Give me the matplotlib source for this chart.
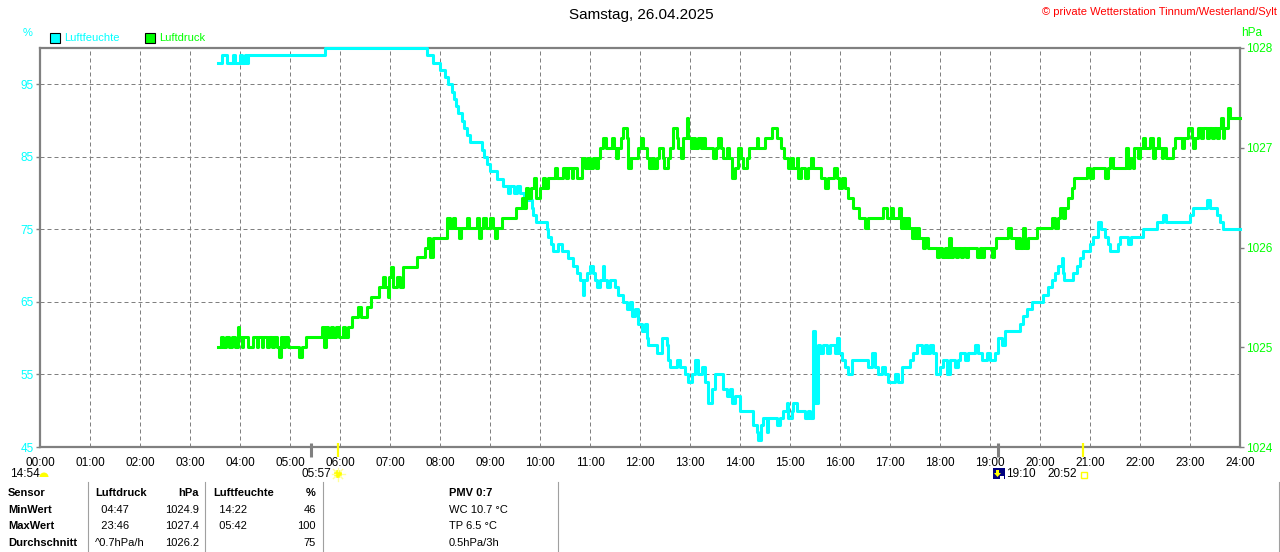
import matplotlib
matplotlib.use('Agg')
import matplotlib.pyplot as plt
from matplotlib.patches import Rectangle, Wedge, Circle, Polygon
from matplotlib.lines import Line2D

plt.rcParams['font.family'] = ['Liberation Sans', 'DejaVu Sans']

# ---------------- data (minutes after midnight) ----------------
hum_min = [214, 218, 224, 232, 234, 240, 242, 246, 248, 250, 342, 464, 472, 480, 486, 490, 494, 497, 499,
           502, 506, 509, 512, 516, 530, 533, 536, 540, 548, 556, 562, 564, 569, 572, 576, 581, 590, 592,
           595, 608, 610, 613, 616, 622, 626, 633, 640, 644, 648, 651, 653, 656, 660, 663, 666, 668, 672,
           675, 677, 680, 684, 690, 694, 700, 704, 708, 710, 714, 718, 722, 726, 728, 730, 740, 746, 752,
           754, 756, 764, 768, 774, 778, 782, 786, 790, 794, 798, 802, 806, 810, 820, 824, 828, 830, 834,
           840, 855, 860, 862, 865, 868, 872, 874, 884, 888, 892, 896, 898, 902, 904, 908, 918, 922, 924,
           927, 928, 930, 933, 936, 940, 944, 948, 954, 956, 959, 962, 966, 970, 974, 994, 998, 1002, 1006,
           1010, 1014, 1018, 1026, 1030, 1034, 1044, 1048, 1052, 1058, 1062, 1064, 1068, 1072, 1075, 1080,
           1084, 1088, 1092, 1098, 1102, 1104, 1110, 1114, 1122, 1126, 1130, 1136, 1140, 1146, 1150, 1154,
           1158, 1176, 1180, 1184, 1190, 1204, 1210, 1214, 1218, 1222, 1226, 1227, 1229, 1239, 1244, 1248,
           1251, 1260, 1264, 1270, 1273, 1278, 1282, 1284, 1294, 1296, 1306, 1309, 1324, 1340, 1348, 1351,
           1380, 1384, 1400, 1404, 1412, 1416, 1420, 1440]
hum_val = [98, 99, 98, 99, 98, 99, 98, 99, 98, 99, 100, 99, 98, 97, 96, 95, 94, 93, 92,
           91, 90, 89, 88, 87, 86, 85, 84, 83, 82, 81, 80, 81, 80, 81, 80, 79, 78, 77,
           76, 75, 74, 73, 72, 73, 72, 71, 70, 69, 68, 66, 68, 69, 70, 69, 68, 67, 68,
           70, 68, 67, 68, 67, 66, 65, 64, 65, 63, 64, 62, 61, 62, 60, 59, 58, 60, 59,
           57, 56, 57, 56, 55, 54, 55, 57, 55, 56, 54, 51, 53, 55, 53, 52, 53, 51, 52,
           50, 48, 47, 46, 48, 49, 47, 49, 48, 49, 50, 51, 49, 50, 51, 50, 49, 50, 49,
           50, 61, 51, 59, 58, 59, 58, 59, 58, 60, 58, 57, 56, 55, 57, 56, 58, 56, 55,
           56, 55, 54, 55, 54, 56, 57, 58, 59, 58, 59, 58, 59, 58, 55, 56,
           57, 55, 57, 56, 57, 58, 57, 58, 59, 58, 57, 58, 57, 58, 60, 59,
           61, 62, 63, 64, 65, 66, 67, 68, 69, 70, 71, 69, 68, 69, 70, 71,
           72, 73, 74, 76, 75, 74, 73, 72, 73, 74, 73, 74, 75, 76, 77, 76,
           77, 78, 79, 78, 77, 76, 75, 75]

prs_min = [214, 217, 220, 223, 227, 230, 234, 237, 239, 242, 244, 250, 255, 260, 262, 266, 268, 272, 275,
           278, 281, 284, 287, 289, 292, 294, 297, 311, 314, 319, 338, 341, 343, 346, 349, 352, 355, 359,
           363, 366, 370, 374, 382, 385, 392, 397, 407, 411, 414, 417, 419, 421, 424, 428, 432, 435, 452,
           462, 466, 468, 471, 488, 492, 495, 498, 503, 505, 512, 515, 524, 527, 529, 532, 535, 540, 544,
           546, 548, 554, 571, 578, 581, 583, 586, 589, 593, 595, 600, 603, 606, 610, 618, 620, 628, 631,
           634, 638, 640, 644, 650, 654, 657, 660, 664, 667, 669, 672, 676, 679, 686, 689, 691, 694, 697,
           699, 704, 706, 709, 717, 721, 724, 728, 731, 734, 737, 740, 743, 747, 749, 753, 756, 759, 764,
           766, 769, 772, 776, 778, 781, 784, 786, 790, 793, 796, 798, 807, 811, 814, 817, 820, 824, 827,
           830, 834, 838, 841, 844, 848, 851, 860, 862, 870, 878, 884, 889, 893, 898, 901, 904, 908, 910,
           913, 918, 922, 925, 928, 937, 942, 945, 953, 956, 959, 962, 966, 970, 975, 983, 990, 994, 1012,
           1016, 1018, 1021, 1024, 1031, 1033, 1036, 1038, 1040, 1043, 1046, 1049, 1051, 1053, 1055, 1060,
           1062, 1066, 1076, 1079, 1082, 1086, 1088, 1091, 1093, 1096, 1099, 1102, 1105, 1108, 1111, 1114,
           1124, 1128, 1130, 1133, 1142, 1145, 1147, 1162, 1165, 1171, 1174, 1176, 1179, 1182, 1185, 1196,
           1214, 1218, 1221, 1224, 1227, 1230, 1234, 1238, 1241, 1256, 1260, 1264, 1278, 1282, 1284, 1288,
           1303, 1306, 1308, 1311, 1313, 1317, 1320, 1324, 1326, 1332, 1335, 1338, 1341, 1343, 1346, 1348,
           1351, 1360, 1362, 1370, 1373, 1378, 1382, 1384, 1386, 1390, 1393, 1396, 1400, 1403, 1406, 1409,
           1412, 1415, 1417, 1419, 1421, 1426, 1428, 1440]
prs_val = [1025.0, 1025.1, 1025.0, 1025.1, 1025.0, 1025.1, 1025.0, 1025.2, 1025.1, 1025.0, 1025.1, 1025.0,
           1025.1, 1025.0, 1025.1, 1025.0, 1025.1, 1025.0, 1025.1, 1025.0, 1025.1, 1025.0, 1024.9, 1025.1,
           1025.0, 1025.1, 1025.0, 1024.9, 1025.0, 1025.1, 1025.2, 1025.0, 1025.2, 1025.1, 1025.2, 1025.1,
           1025.2, 1025.1, 1025.2, 1025.1, 1025.2, 1025.3, 1025.4, 1025.3, 1025.4, 1025.5, 1025.6, 1025.7,
           1025.6, 1025.5, 1025.7, 1025.8, 1025.6, 1025.7, 1025.6, 1025.8, 1025.9, 1026.0, 1026.1, 1025.9,
           1026.1, 1026.3, 1026.2, 1026.3, 1026.2, 1026.1, 1026.2, 1026.3, 1026.2, 1026.3, 1026.1, 1026.2,
           1026.3, 1026.2, 1026.3, 1026.2, 1026.1, 1026.2, 1026.3, 1026.4, 1026.5, 1026.4, 1026.6, 1026.5,
           1026.6, 1026.7, 1026.5, 1026.6, 1026.7, 1026.6, 1026.7, 1026.8, 1026.7, 1026.8, 1026.7, 1026.8,
           1026.7, 1026.8, 1026.7, 1026.9, 1026.8, 1026.9, 1026.8, 1026.9, 1026.8, 1026.9, 1027.0, 1027.1,
           1027.0, 1027.1, 1027.0, 1026.9, 1027.0, 1027.1, 1027.2, 1027.1, 1026.8, 1026.9, 1027.0, 1027.1,
           1027.0, 1026.9, 1026.8, 1026.9, 1026.8, 1026.9, 1027.0, 1026.9, 1026.8, 1026.9, 1027.0, 1027.2,
           1027.1, 1027.0, 1026.9, 1027.1, 1027.3, 1027.1, 1027.0, 1027.1, 1027.0, 1027.1, 1027.0, 1027.1,
           1027.0, 1026.9, 1027.0, 1027.1, 1027.0, 1026.9, 1027.0, 1026.9, 1026.7, 1026.8, 1027.0, 1026.9,
           1026.8, 1026.9, 1027.0, 1027.1, 1027.0, 1027.1, 1027.2, 1027.1, 1027.0, 1026.9, 1026.8, 1026.9,
           1026.8, 1026.9, 1026.7, 1026.8, 1026.7, 1026.8, 1026.9, 1026.8, 1026.7, 1026.6, 1026.7, 1026.8,
           1026.7, 1026.6, 1026.7, 1026.6, 1026.5, 1026.4, 1026.3, 1026.2, 1026.3, 1026.4, 1026.3, 1026.3,
           1026.4, 1026.3, 1026.4, 1026.2, 1026.3, 1026.2, 1026.3, 1026.2, 1026.1, 1026.2, 1026.1, 1026.2,
           1026.1, 1026.0, 1026.1, 1026.0, 1025.9, 1026.0, 1025.9, 1026.0, 1025.9, 1026.1, 1025.9, 1026.0,
           1025.9, 1026.0, 1025.9, 1026.0, 1025.9, 1026.0, 1025.9, 1026.0, 1025.9, 1026.0, 1025.9, 1026.0,
           1026.1, 1026.2, 1026.1, 1026.0, 1026.1, 1026.0, 1026.2, 1026.0, 1026.1, 1026.2, 1026.3, 1026.2,
           1026.3, 1026.4, 1026.3, 1026.4, 1026.5, 1026.6, 1026.7, 1026.8, 1026.7, 1026.8, 1026.7, 1026.8,
           1026.9, 1026.8, 1027.0, 1026.8, 1026.9, 1026.8, 1027.0, 1026.9, 1027.0, 1027.1, 1027.0, 1027.1,
           1026.9, 1027.0, 1027.1, 1027.0, 1026.9, 1027.0, 1026.9, 1027.0, 1027.1, 1027.0, 1027.1, 1027.2,
           1027.1, 1027.0, 1027.1, 1027.2, 1027.1, 1027.2, 1027.1, 1027.2, 1027.1, 1027.2, 1027.1, 1027.2,
           1027.3, 1027.1, 1027.2, 1027.4, 1027.3, 1027.3]

hour_ticks = list(range(0, 1441, 60))
hour_labels = ['%02d:00' % h for h in range(25)]
hum_ticks = [45, 55, 65, 75, 85, 95]
prs_ticks = [1024, 1025, 1026, 1027, 1028]

event_min = [325, 357, 1150, 1252]
event_col = ['#808080', '#FFFF00', '#808080', '#FFFF00']

title = 'Samstag, 26.04.2025'
copyright_txt = '\u00a9 private Wetterstation Tinnum/Westerland/Sylt'

table_rows = [
    ('Sensor', 'Luftdruck', 'hPa', 'Luftfeuchte', '%', 'PMV 0:7'),
    ('MinWert', '  04:47', '1024.9', '  14:22', '46', 'WC 10.7 \u00b0C'),
    ('MaxWert', '  23:46', '1027.4', '  05:42', '100', 'TP 6.5 \u00b0C'),
    ('Durchschnitt', '^0.7hPa/h', '1026.2', '', '75', '0.5hPa/3h'),
]

# ---------------- figure ----------------
W, H = 1280, 552
fig = plt.figure(figsize=(W / 100, H / 100), dpi=100)
fig.patch.set_facecolor('white')

def fx(x):
    return x / W

def fy(y):
    return 1 - y / H

CYAN = '#00FFFF'
GREEN = '#00FF00'
GRAY = '#808080'

ax = fig.add_axes([fx(40), fy(447), 1200 / W, 399 / H])
ax2 = ax.twinx()

ax.plot(hum_min, hum_val, drawstyle='steps-post', color=CYAN, lw=2.2, zorder=3, clip_on=False)
ax2.plot(prs_min, prs_val, drawstyle='steps-post', color=GREEN, lw=2.2, zorder=3, clip_on=False)

ax.set_xlim(0, 1440)
ax.set_ylim(45, 100)
ax2.set_ylim(1024, 1028)

ax.set_xticks(hour_ticks)
ax.set_xticklabels(hour_labels)
ax.set_yticks(hum_ticks)
ax.set_yticklabels([str(v) for v in hum_ticks])
ax2.set_yticks(prs_ticks)
ax2.set_yticklabels([str(v) for v in prs_ticks])

ax.tick_params(axis='x', length=0, pad=7, labelsize=8.5, labelcolor='black')
ax.tick_params(axis='y', length=3, width=1, color=GRAY, labelcolor=CYAN, pad=1.5, labelsize=8.5)
ax2.tick_params(axis='y', length=3, width=1, color=GRAY, labelcolor=GREEN, pad=1.5, labelsize=8.5)

ax.grid(True, color=GRAY, lw=0.72, ls=(0, (4, 3)), zorder=1)
for s in ax.spines.values():
    s.set_color(GRAY)
    s.set_linewidth(1.6)
for s in ax2.spines.values():
    s.set_visible(False)

# sunrise / sunset / moon markers at bottom
trans = ax.get_xaxis_transform()
for m, c in zip(event_min, event_col):
    lw = 2.2 if c == GRAY else 1.6
    ax.plot([m, m], [0.01, -0.025], color=c, lw=lw, transform=trans, clip_on=False, zorder=4,
            solid_capstyle='butt')

# texts at top
fig.text(fx(641), fy(15), title, ha='center', va='center', fontsize=11, color='black')
fig.text(fx(1277), fy(12), copyright_txt, ha='right', va='center', fontsize=8, color='#FF0000')
fig.text(fx(23), fy(33), '%', ha='left', va='center', fontsize=8, color=CYAN)
fig.text(fx(1241), fy(33), 'hPa', ha='left', va='center', fontsize=8.5, color=GREEN)

# legend
for x0, col, lab in [(50, CYAN, 'Luftfeuchte'), (145, GREEN, 'Luftdruck')]:
    fig.add_artist(Rectangle((fx(x0), fy(43)), 10 / W, 10 / H, facecolor=col, edgecolor='black',
                             lw=0.8, transform=fig.transFigure))
    fig.text(fx(x0 + 14), fy(38), lab, ha='left', va='center', fontsize=8, color=col)

# event labels
ev_fs = 8.5
fig.text(fx(10), fy(474), '14:54', ha='left', va='center', fontsize=ev_fs)
fig.text(fx(331), fy(474), '05:57', ha='right', va='center', fontsize=ev_fs)
fig.text(fx(1006), fy(474), '19:10', ha='left', va='center', fontsize=ev_fs)
fig.text(fx(1077), fy(474), '20:52', ha='right', va='center', fontsize=ev_fs)

# icons (pixel based via inches transform)
it = fig.dpi_scale_trans
def P(x, y):
    return (x / 100, (H - y) / 100)

fig.add_artist(Wedge(P(44, 477), 0.045, 0, 180, facecolor='#FFFF00', edgecolor='none', transform=it))
import math
for k in range(8):
    a = k * math.pi / 4
    x1, y1 = 338 + 3.5 * math.cos(a), 474 + 3.5 * math.sin(a)
    x2, y2 = 338 + 6.5 * math.cos(a), 474 + 6.5 * math.sin(a)
    fig.add_artist(Line2D([P(x1, y1)[0], P(x2, y2)[0]], [P(x1, y1)[1], P(x2, y2)[1]],
                          color='#FFFF99', lw=1, transform=it))
fig.add_artist(Circle(P(338, 474), 0.04, facecolor='#FFFF00', edgecolor='none', transform=it))
fig.add_artist(Rectangle(P(993, 479), 0.12, 0.11, facecolor='#000080', edgecolor='none', transform=it))
fig.add_artist(Polygon([P(996, 470), P(999, 470), P(999, 473), P(1001, 473), P(997.5, 477),
                        P(994, 473), P(996, 473)], closed=True, facecolor='#FFFF00',
                       edgecolor='none', transform=it))
fig.add_artist(Rectangle(P(1000, 479), 0.04, 0.03, facecolor='white', edgecolor='none', transform=it))
fig.add_artist(Rectangle(P(1081, 478), 0.06, 0.06, facecolor='none', edgecolor='#FFFF00', lw=1,
                         transform=it))

# bottom table
for xs in [88, 205, 323, 558, 1279]:
    fig.add_artist(Line2D([fx(xs), fx(xs)], [fy(482), fy(552)], color='#A0A0A0', lw=0.8,
                          transform=fig.transFigure))

row_y = [493, 510, 526, 543]
col_x = [8, 95, 199, 213, 316, 449]
col_ha = ['left', 'left', 'right', 'left', 'right', 'left']
for r, (row, yy) in enumerate(zip(table_rows, row_y)):
    for c, (txt, xx, ha) in enumerate(zip(row, col_x, col_ha)):
        bold = (r == 0) or (c == 0)
        fig.text(fx(xx), fy(yy), txt, ha=ha, va='center', fontsize=8,
                 fontweight='bold' if bold else 'normal', color='black')

fig.savefig('out.png', dpi=100, facecolor='white')
